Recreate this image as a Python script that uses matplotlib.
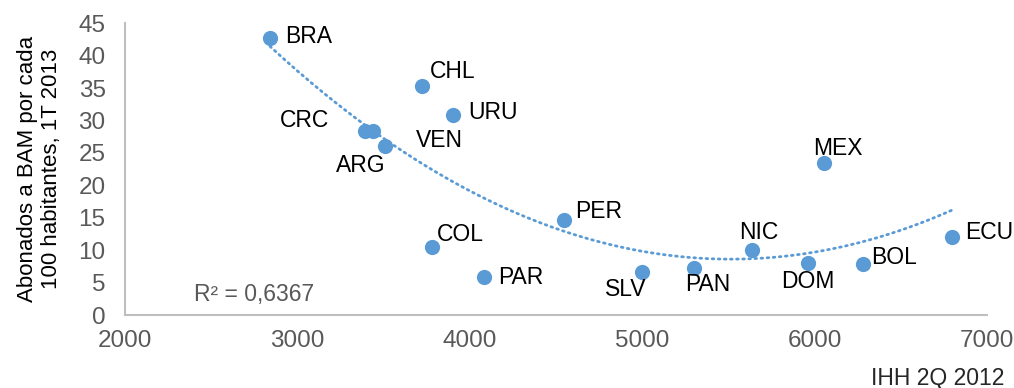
import numpy as np
import matplotlib.pyplot as plt

plt.rcParams['font.family'] = ['Liberation Sans', 'DejaVu Sans']

# IHH 2Q 2012 vs. abonados BAM por cada 100 habitantes (1T 2013)
countries = ['BRA', 'CHL', 'URU', 'CRC', 'VEN', 'ARG', 'COL', 'PAR', 'PER',
             'SLV', 'PAN', 'NIC', 'MEX', 'DOM', 'BOL', 'ECU']
ihh = [2841, 3723, 3903, 3392, 3438, 3508, 3779, 4082, 4548,
       5001, 5300, 5635, 6052, 5963, 6279, 6795]
bam = [42.7, 35.3, 30.8, 28.4, 28.4, 26.1, 10.5, 5.8, 14.6,
       6.7, 7.3, 10.1, 23.4, 8.0, 7.8, 12.0]

# label offsets in pixels (dx, dy, ha)
offsets = {
    'BRA': (15, 2, 'left'), 'CHL': (8, 15, 'left'), 'URU': (15, 3, 'left'),
    'CRC': (-36, 10, 'right'), 'VEN': (43, -10, 'left'), 'ARG': (1, -20, 'right'),
    'COL': (5, 12, 'left'), 'PAR': (14, 0, 'left'), 'PER': (11, 9, 'left'),
    'SLV': (-17, -18, 'center'), 'PAN': (14, -17, 'center'), 'NIC': (7, 17, 'center'),
    'MEX': (14, 15, 'center'), 'DOM': (0, -18, 'center'), 'BOL': (8, 7, 'left'),
    'ECU': (14, 5, 'left'),
}

blue = '#5B9BD5'
grey = '#595959'

fig = plt.figure(figsize=(10.14, 3.88), dpi=100)
ax = fig.add_axes([0.1233, 0.188, 0.850, 0.752])

ax.scatter(ihh, bam, s=120, color=blue, zorder=3, linewidths=0)

# polynomial (order 2) trend line
coef = np.polyfit(ihh, bam, 2)
xs = np.linspace(min(ihh), max(ihh), 200)
ax.plot(xs, np.polyval(coef, xs), color=blue, lw=2, linestyle=(0, (0.6, 1.6)),
        dash_capstyle='round', zorder=2)

for c, x, y in zip(countries, ihh, bam):
    dx, dy, ha = offsets[c]
    ax.annotate(c, (x, y), xytext=(dx, dy), textcoords='offset pixels',
                ha=ha, va='center', fontsize=16.5, color='black')

ax.text(2400, 3.2, 'R² = 0,6367', fontsize=16.5, color=grey, va='center')

ax.set_xlim(2000, 7000)
ax.set_ylim(0, 45)
ax.set_xticks(range(2000, 7001, 1000))
ax.set_yticks(range(0, 46, 5))
ax.tick_params(length=0, labelsize=17.5, labelcolor=grey)
ax.tick_params(axis='y', pad=14)
ax.tick_params(axis='x', pad=11)
for s in ['top', 'right']:
    ax.spines[s].set_visible(False)
for s in ['left', 'bottom']:
    ax.spines[s].set_color('#BFBFBF')
    ax.spines[s].set_linewidth(1.5)

ax.set_ylabel('Abonados a BAM por cada\n100 habitantes, 1T 2013', fontsize=16,
              color='black', linespacing=1.15, labelpad=12)
fig.text(0.991, 0.025, 'IHH 2Q 2012', fontsize=16.5, color='#262626', ha='right', va='center')

fig.savefig('out.png', dpi=100)
